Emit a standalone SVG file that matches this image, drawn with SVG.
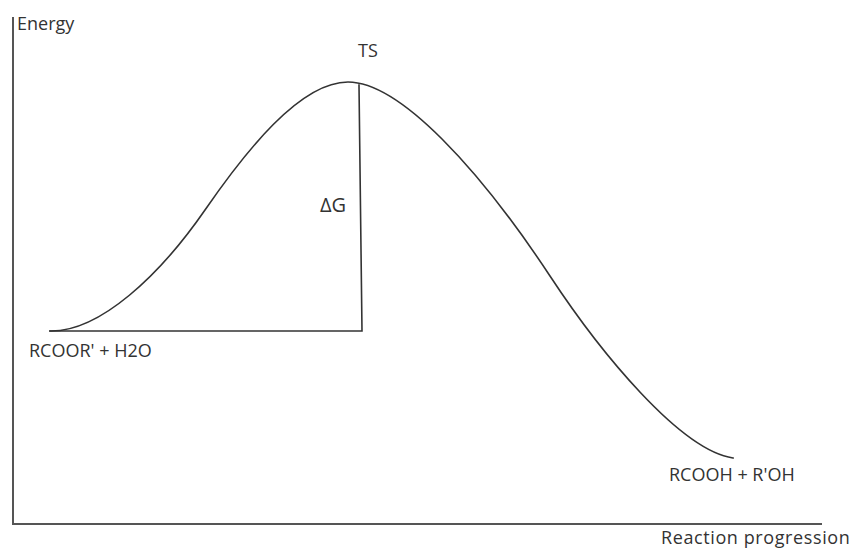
<svg xmlns="http://www.w3.org/2000/svg" width="857" height="548" viewBox="0 0 857 548">
<style>
.ln{fill:none;stroke:#333;stroke-width:1.6;stroke-linecap:square}
.ax{fill:none;stroke:#555;stroke-width:2}
.t{font-family:"Open Sans","DejaVu Sans",sans-serif;font-size:18px;fill:#333}
</style>
<rect width="857" height="548" fill="#fff"/>
<g id="axes">
<path class="ax" d="M13,17 V524 H822"/>
<text class="t" x="17" y="30">Energy</text>
<text class="t" x="661" y="544" style="letter-spacing:0.6px">Reaction progression</text>
</g>
<g id="connectors">
<path class="ln" d="M50,331 C100,332 160,275 205,210 C245,152 300,82 348,82 C400,82 480,170 550,276 C600,352 680,450 733,458"/>
<path class="ln" d="M359,85 L362,331 H50"/>
</g>
<g id="ts"><text class="t" x="358" y="57">TS</text></g>
<g id="dg"><text class="t" x="320" y="212" style="font-size:20px">ΔG</text></g>
<g id="reactants"><text class="t" x="29" y="357">RCOOR' + H2O</text></g>
<g id="products"><text class="t" x="669" y="481">RCOOH + R'OH</text></g>
</svg>
